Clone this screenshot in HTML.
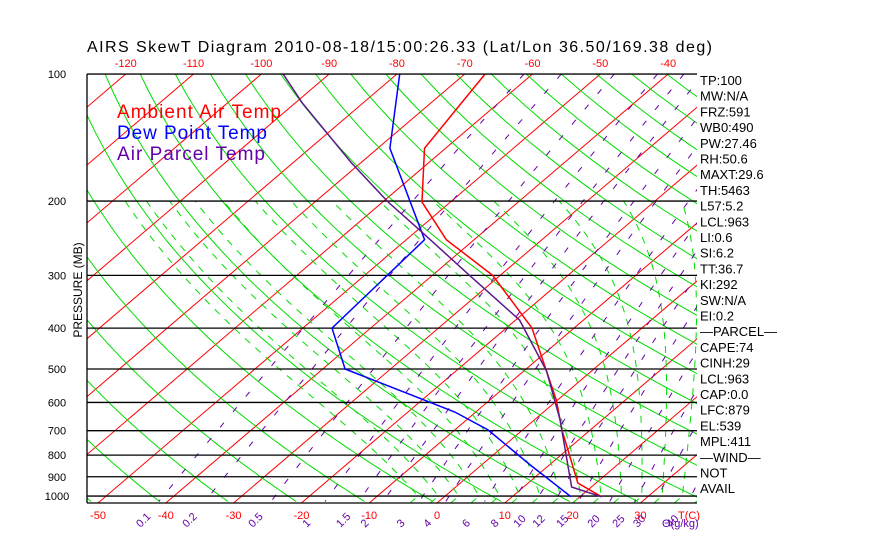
<!DOCTYPE html>
<html><head><meta charset="utf-8">
<style>
html,body{margin:0;padding:0;background:#fff;}
svg{display:block;font-family:"Liberation Sans",sans-serif;}
</style></head>
<body>
<svg id="chart" width="870" height="560" viewBox="0 0 870 560" xmlns="http://www.w3.org/2000/svg">
<defs><clipPath id="clip"><rect x="87" y="74" width="610" height="429"/></clipPath></defs>
<rect width="870" height="560" fill="#fff"/>
<text x="87" y="52" font-size="16" fill="#000" textLength="625" lengthAdjust="spacing">AIRS SkewT Diagram 2010-08-18/15:00:26.33 (Lat/Lon 36.50/169.38 deg)</text>
<g id="grid" clip-path="url(#clip)"></g>
<g id="series" clip-path="url(#clip)"></g>
<g id="axes"></g>
<text transform="translate(82,290) rotate(-90)" text-anchor="middle" font-size="12" fill="#000">PRESSURE (MB)</text>
<g font-size="19">
<text x="117" y="118" fill="#ff0000" textLength="164" lengthAdjust="spacing">Ambient Air Temp</text>
<text x="117" y="139" fill="#0000ff" textLength="150" lengthAdjust="spacing">Dew Point Temp</text>
<text x="117" y="160" fill="#6600aa" textLength="148" lengthAdjust="spacing">Air Parcel Temp</text>
</g>
<g id="stats" font-size="13" fill="#000"></g>
</svg>
<script>
const pressureTicks=[100,200,300,400,500,600,700,800,900,1000];
const bottomTempTicks=[-50,-40,-30,-20,-10,0,10,20,30];
const topTempTicks=[-120,-110,-100,-90,-80,-70,-60,-50,-40];
const mixRatios=[0.1,0.2,0.5,1,1.5,2,3,4,6,8,10,12,15,20,25,30,40];
const envP=[1004,931,821,697,592,500,400,300,247,201,150,100];
const envT=[23.2,17.3,12.3,5.8,-0.2,-7.1,-16.2,-31.1,-44.1,-54.2,-63.1,-67];
const dewP=[1004,844,697,632,500,400,247,150,100];
const dewT=[18.7,7.2,-5.1,-13.1,-36.7,-45.7,-47.3,-68.2,-79.6];
const parP=[1004,952,660,506,383,300,232,201,162,117,100];
const parT=[23.2,17.1,3.8,-6.6,-19.4,-34.5,-50.3,-59.2,-71.5,-89,-96.8];
const statLabels=["TP:100","MW:N/A","FRZ:591","WB0:490","PW:27.46","RH:50.6","MAXT:29.6","TH:5463","L57:5.2","LCL:963","LI:0.6","SI:6.2","TT:36.7","KI:292","SW:N/A","EI:0.2","\u2014PARCEL\u2014","CAPE:74","CINH:29","LCL:963","CAP:0.0","LFC:879","EL:539","MPL:411","\u2014WIND\u2014","NOT","AVAIL"];

const NS="http://www.w3.org/2000/svg";
const Y0=74,YB=503,X0=87,X1=697,K=183.3;
function yP(p){return Y0+K*Math.log(p/100);}
function xT(T,p){return 98+(T+50)*6.78+(YB-yP(p))*1.171;}
function mk(tag,attrs,parent){const e=document.createElementNS(NS,tag);for(const k in attrs)e.setAttribute(k,attrs[k]);parent.appendChild(e);return e;}
function path(pts){return pts.map((q,i)=>(i?'L':'M')+q[0].toFixed(1)+','+q[1].toFixed(1)).join('');}
const grid=document.getElementById('grid'),series=document.getElementById('series'),axes=document.getElementById('axes'),stats=document.getElementById('stats');
const pBot=100*Math.exp((YB-Y0)/K);

for(let T=-160;T<=50;T+=10){
  const e=mk('line',{x1:xT(T,pBot),y1:YB,x2:xT(T,100),y2:Y0,stroke:'#ff0000','stroke-width':1},grid);
  
  
}
for(let th=190;th<=520;th+=10){
  const pts=[];for(let p=100;p<=pBot+1;p+=10){pts.push([xT(th*Math.pow(p/1000,0.286)-273.15,p),yP(p)]);}
  const e=mk('path',{d:path(pts),stroke:'#00dd00',fill:'none','stroke-width':1},grid);
  
  
}
function es(T){return 6.112*Math.exp(17.67*T/(T+243.5));}
for(let t0=-4;t0<=38;t0+=3){
  const up=[];
  let TT=t0+273.15,pp=1000;
  while(pp>200){
    const rs=0.622*es(TT-273.15)/(pp-es(TT-273.15));
    const dTdp=(287*TT+2.5e6*rs)/(1004+2.5e6*2.5e6*rs*0.622/(287*TT*TT))/pp;
    pp-=5;TT-=dTdp*5;up.push([xT(TT-273.15,pp),yP(pp)]);
  }
  const e=mk('path',{d:path([[xT(t0,pBot),yP(pBot)],[xT(t0,1000),yP(1000)]].concat(up)),stroke:'#00dd00',fill:'none','stroke-width':1,'stroke-dasharray':'7,7'},grid);
  
  
}
function tdW(w,p){const e=w*p/(622+w);const l=Math.log(e/6.112);return 243.5*l/(17.67-l);}
mixRatios.forEach(w=>{
  const pts=[];for(let p=100;p<=pBot+1;p+=10)pts.push([xT(tdW(w,p),p),yP(p)]);
  const e=mk('path',{d:path(pts),stroke:'#6600aa',fill:'none','stroke-width':1,'stroke-dasharray':'6,14'},grid);
  
  
  const lx=xT(tdW(w,pBot),pBot)-17;
  const t=mk('text',{x:lx,y:528,'font-size':11,fill:'#6600aa',transform:`rotate(-45 ${lx} 528)`},axes);t.textContent=String(w);
  
  
});
pressureTicks.forEach(p=>{
  const y=yP(p);
  const l=mk('line',{x1:X0,y1:y,x2:X1,y2:y,stroke:'#000','stroke-width':1.3},grid);
  
  
  const t=mk('text',{x:57,y:y+4,'font-size':11,fill:'#000','text-anchor':'middle'},axes);t.textContent=p;
  
  
});
mk('line',{x1:X0,y1:Y0,x2:X1,y2:Y0,stroke:'#000','stroke-width':1.3},axes);
mk('line',{x1:X0,y1:Y0,x2:X0,y2:YB,stroke:'#000','stroke-width':1.3},axes);
mk('line',{x1:X0,y1:YB,x2:X1,y2:YB,stroke:'#000','stroke-width':1.3},axes);
bottomTempTicks.forEach(T=>{
  const t=mk('text',{x:xT(T,pBot),y:519,'font-size':11,fill:'#ff0000','text-anchor':'middle'},axes);t.textContent=T;
  
  
});
topTempTicks.forEach(T=>{
  const t=mk('text',{x:xT(T,100),y:67,'font-size':11,fill:'#ff0000','text-anchor':'middle'},axes);t.textContent=T;
  
  
});
{const t=mk('text',{x:678,y:519,'font-size':11,fill:'#ff0000'},axes);t.textContent='T(C)';


const u=mk('text',{x:662,y:527,'font-size':11,fill:'#6600aa'},axes);u.textContent='\u0398(g/kg)';

}
function drawSeries(P,T,color,name,w){
  const pts=P.map((p,i)=>[xT(T[i],p),yP(p)]);
  const e=mk('path',{d:path(pts),stroke:color,fill:'none','stroke-width':w},series);
  
  
}
drawSeries(envP,envT,'#ff0000','ambient-temp-line',1.5);
drawSeries(dewP,dewT,'#0000ff','dewpoint-line',1.5);
drawSeries(parP,parT,'#5a1a8a','parcel-line',1.5);
statLabels.forEach((s,i)=>{
  const t=mk('text',{x:700,y:85+i*15.7},stats);t.textContent=s;
  
  
});
</script>
</body></html>
